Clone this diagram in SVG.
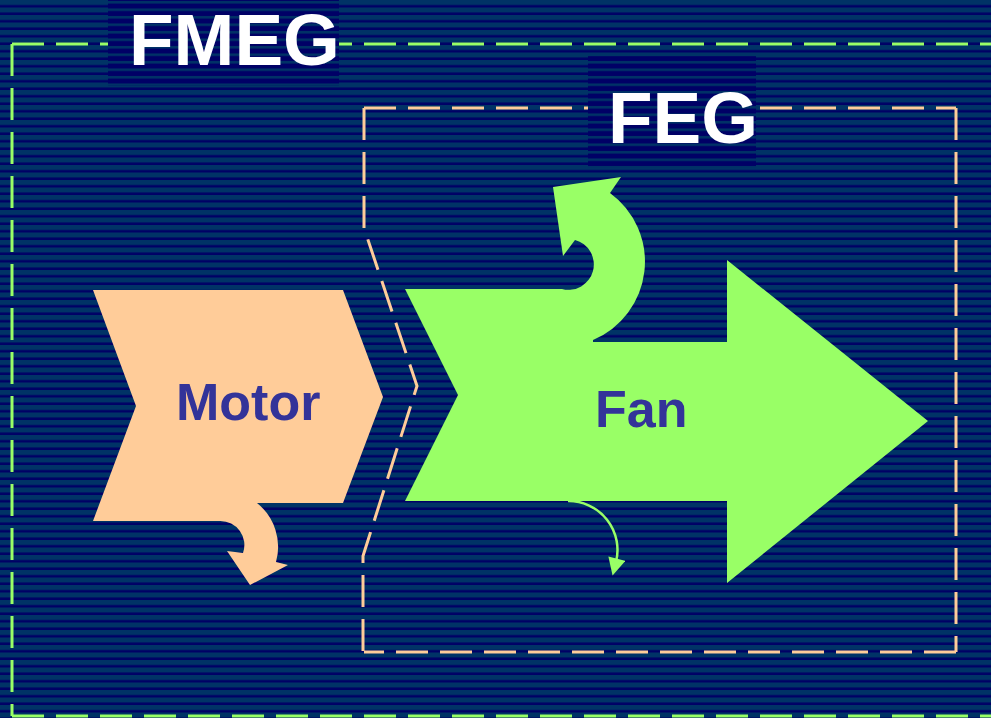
<svg xmlns="http://www.w3.org/2000/svg" width="991" height="718" viewBox="0 0 991 718">
  <defs>
    <!-- striped navy backdrop -->
    <pattern id="stripes" width="16" height="7.5" patternUnits="userSpaceOnUse">
      <rect width="16" height="7.5" fill="#003366"/>
      <rect y="5" width="16" height="2.5" fill="#000066"/>
    </pattern>
    <!-- darker stripes behind the group titles -->
    <pattern id="stripesDark" width="16" height="7.5" patternUnits="userSpaceOnUse">
      <rect width="16" height="7.5" fill="#000066"/>
      <rect y="1" width="16" height="2.5" fill="#003366"/>
    </pattern>
    <marker id="headGreen" viewBox="0 0 10 10" refX="2" refY="5" markerWidth="7.5" markerHeight="7" markerUnits="strokeWidth" orient="auto">
      <path d="M0,0 L10,5 L0,10 Z" fill="#99ff66"/>
    </marker>
    <style>
      .title { font-family: "Liberation Sans", Arial, sans-serif; font-weight: bold; font-size: 73px; fill: #ffffff; }
      .label { font-family: "Liberation Sans", Arial, sans-serif; font-weight: bold; font-size: 52px; fill: #333399; }
      .boundGreen { fill: none; stroke: #99ff66; stroke-width: 3; stroke-dasharray: 32 12; }
      .boundPeach { fill: none; stroke: #ffcc99; stroke-width: 3; stroke-dasharray: 32 12; }
    </style>
  </defs>

  <rect width="991" height="718" fill="url(#stripes)"/>

  <!-- FMEG boundary (motor + fan) -->
  <g id="fmeg-boundary">
    <path class="boundGreen" d="M12,44 H995"/>
    <path class="boundGreen" d="M12,44 V716"/>
    <path class="boundGreen" d="M12,716 H995"/>
  </g>

  <!-- FEG boundary (fan only), bent around the motor -->
  <g id="feg-boundary">
    <path class="boundPeach" d="M364,108 H956"/>
    <path class="boundPeach" d="M956,108 V652"/>
    <path class="boundPeach" d="M956,652 H364"/>
    <path class="boundPeach" d="M364,108 V228 L417,386 L363,556 V652"/>
  </g>

  <!-- group titles -->
  <g id="fmeg-title">
    <rect x="108" y="0" width="231" height="86" fill="url(#stripesDark)"/>
    <text class="title" x="129" y="65">FMEG</text>
  </g>
  <g id="feg-title">
    <rect x="588" y="56" width="168" height="112" fill="url(#stripesDark)"/>
    <text class="title" x="608" y="143">FEG</text>
  </g>

  <!-- Motor -->
  <g id="motor">
    <path fill="#ffcc99" d="M93,290 L343,290 L383,397 L343,503 L257,503 A56,56 0 0 1 276,562 L288,565 L250,585 L227,551 L243,553 A24,24 0 0 0 220,521 L93,521 L136,406 Z"/>
    <text class="label" x="176" y="420">Motor</text>
  </g>

  <!-- Fan -->
  <g id="fan">
    <path fill="#99ff66" d="M405,289 L562,289 A25,25 0 0 0 575,240 L563,256 L553,187 L621,177 L610,193 A85,85 0 0 1 593,340 L593,342 L727,342 L727,260 L928,421 L727,583 L727,501 L405,501 L458,395 Z"/>
    <text class="label" x="595" y="427">Fan</text>
  </g>

  <!-- connectors -->
  <g id="connectors">
    <path d="M568,501 A49,49 0 0 1 616,562" fill="none" stroke="#99ff66" stroke-width="2.5" marker-end="url(#headGreen)"/>
  </g>
</svg>
